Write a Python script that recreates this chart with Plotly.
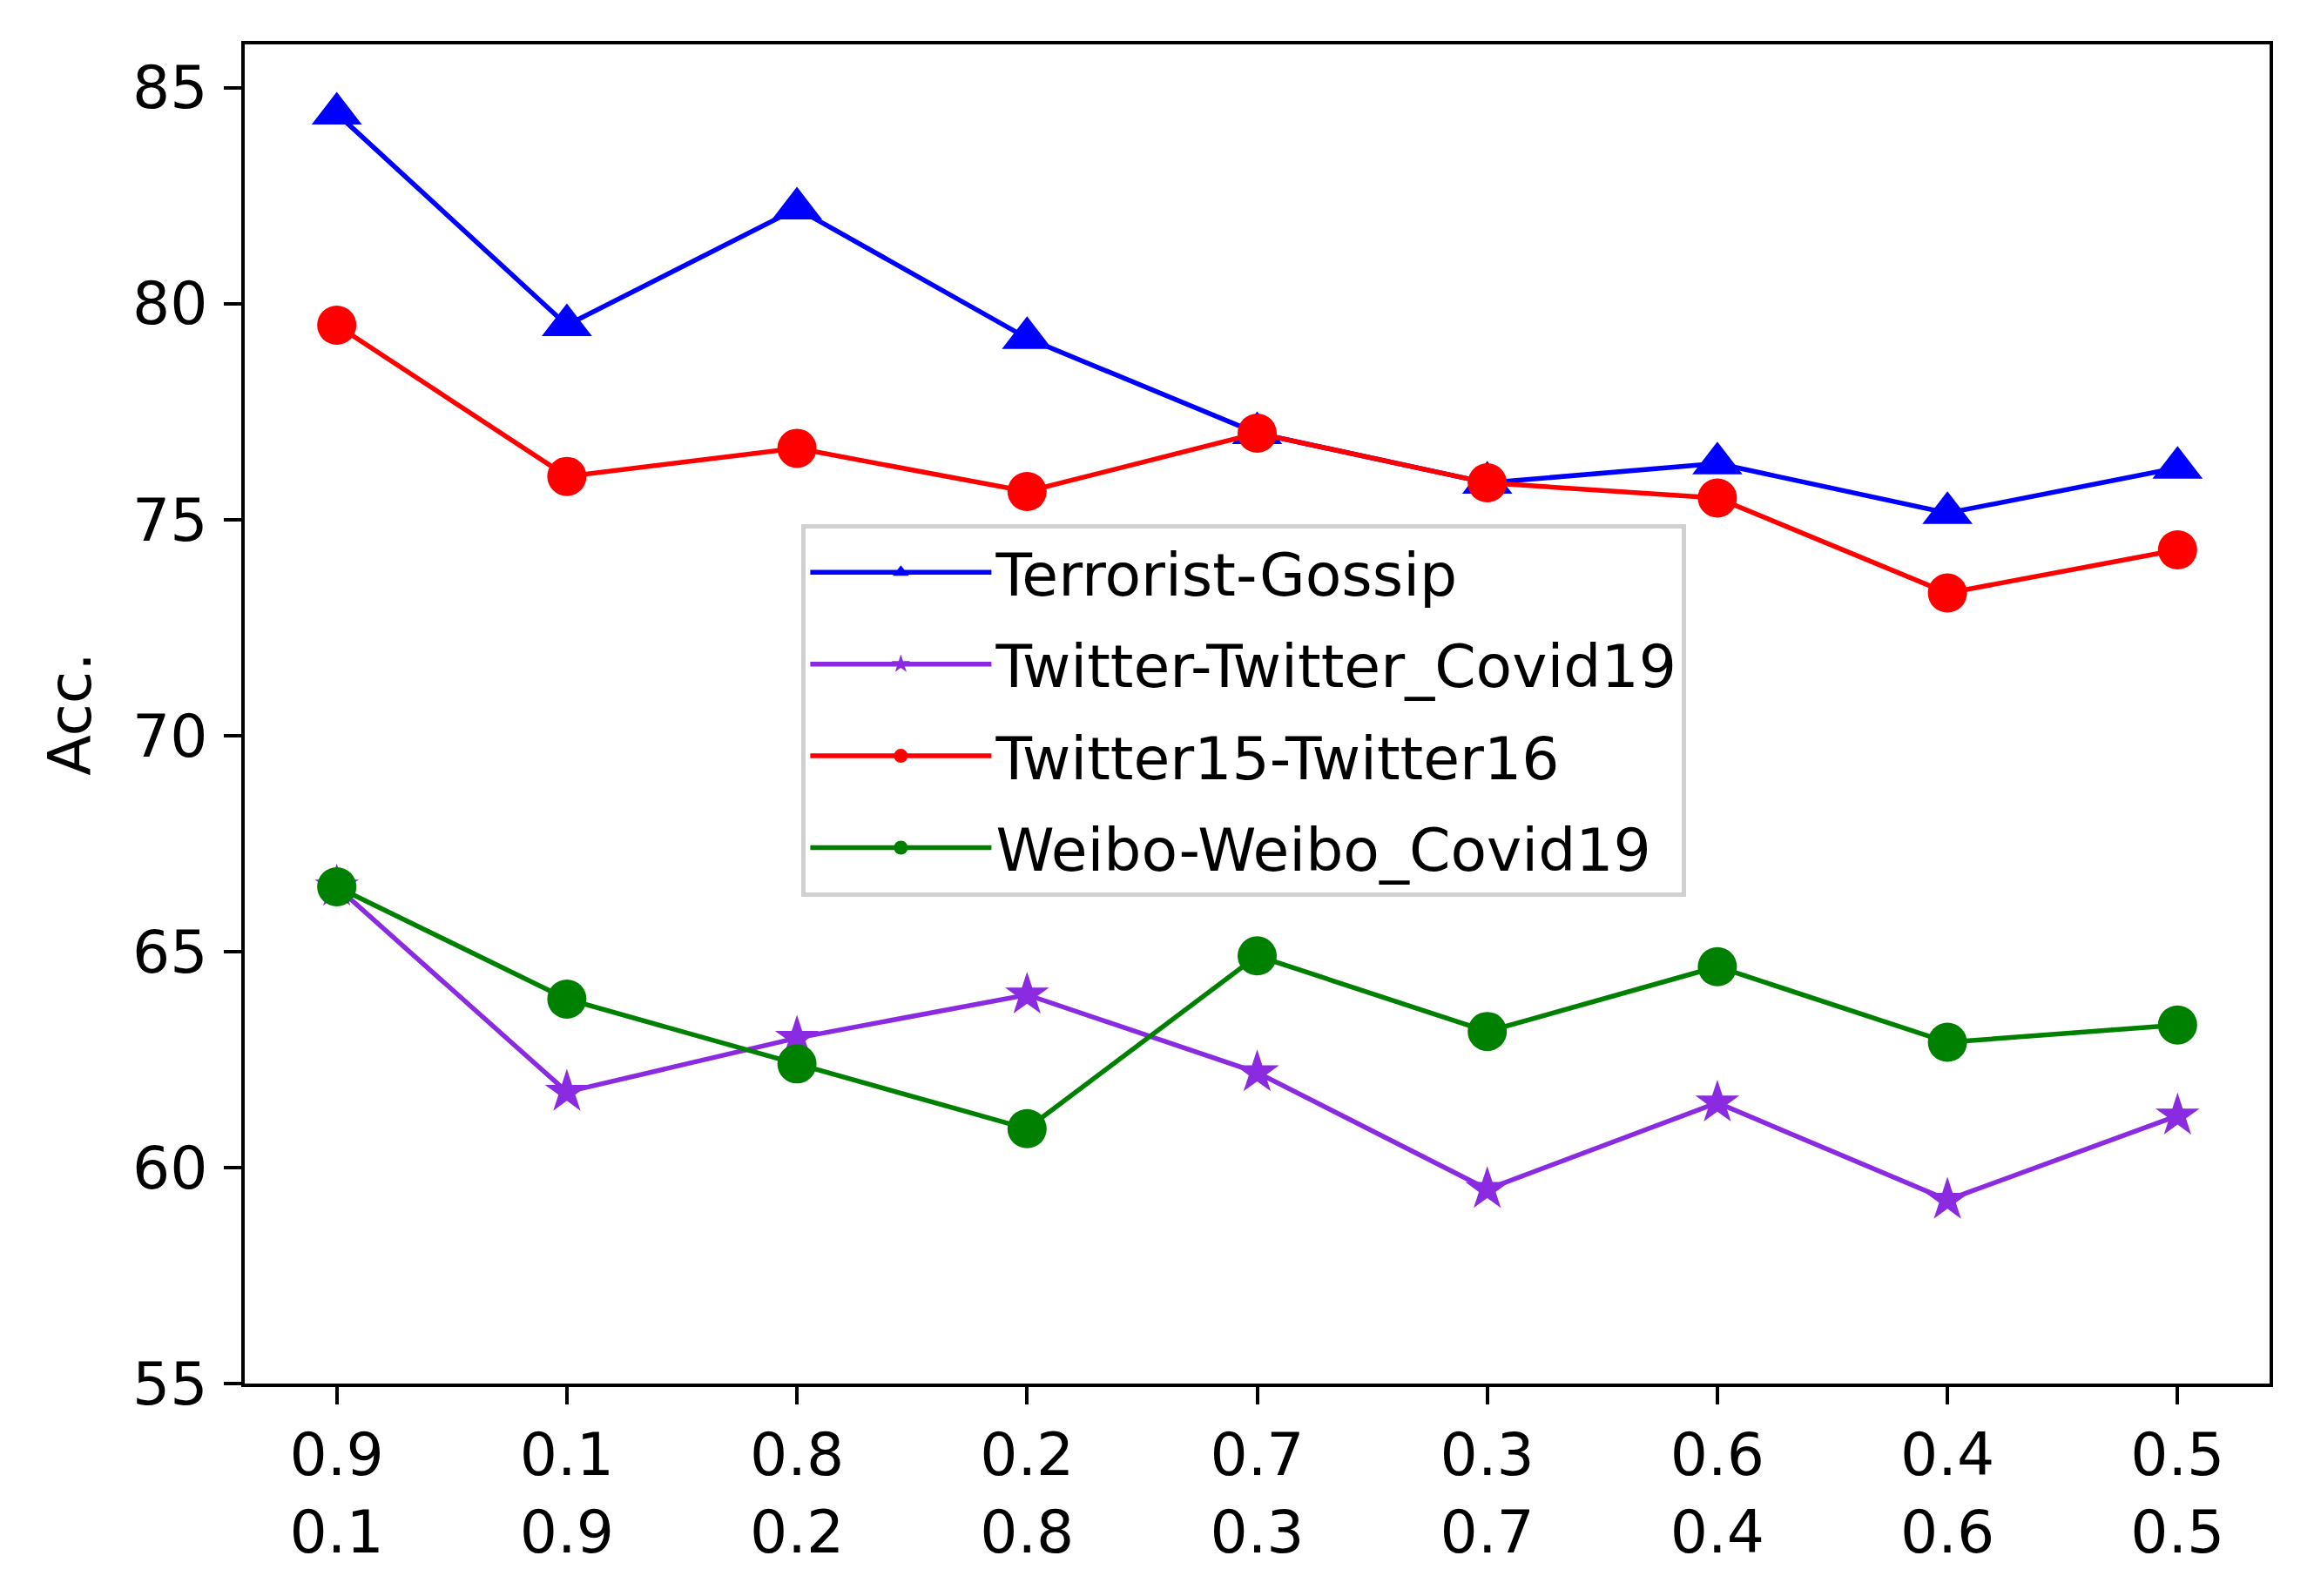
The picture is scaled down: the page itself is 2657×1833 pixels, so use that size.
import plotly.graph_objects as go

x_top = ["0.9", "0.1", "0.8", "0.2", "0.7", "0.3", "0.6", "0.4", "0.5"]
x_bottom = ["0.1", "0.9", "0.2", "0.8", "0.3", "0.7", "0.4", "0.6", "0.5"]

terrorist_gossip = [84.4, 79.5, 82.2, 79.2, 77.0, 75.85, 76.3, 75.15, 76.2]
twitter_covid = [66.5, 61.75, 63.0, 64.0, 62.2, 59.5, 61.5, 59.25, 61.2]
twitter15_16 = [79.5, 76.0, 76.65, 75.65, 77.0, 75.85, 75.5, 73.3, 74.3]
weibo_covid = [66.5, 63.9, 62.4, 60.9, 64.9, 63.15, 64.65, 62.9, 63.3]

y_ticks = [55, 60, 65, 70, 75, 80, 85]

series = [
    ("Terrorist-Gossip", terrorist_gossip, "#0000ff", "triangle-up", 50),
    ("Twitter-Twitter_Covid19", twitter_covid, "#8a2be2", "star", 38),
    ("Twitter15-Twitter16", twitter15_16, "#ff0000", "circle", 45),
    ("Weibo-Weibo_Covid19", weibo_covid, "#008000", "circle", 45),
]

xs = list(range(len(x_top)))
ticktext = [f"{a}<br>{b}" for a, b in zip(x_top, x_bottom)]

fig = go.Figure()
for i, (name, vals, color, sym, size) in enumerate(series):
    fig.add_trace(go.Scatter(
        x=xs, y=vals, name=name, mode="lines+markers",
        legendgroup=f"g{i}",
        line=dict(color=color, width=5.5),
        marker=dict(symbol=sym, size=size, color=color, line=dict(width=0)),
    ))

font_family = "DejaVu Sans"
fs = 68
fig.update_layout(
    width=2657, height=1833,
    margin=dict(l=273, r=59, t=43, b=252),
    paper_bgcolor="white", plot_bgcolor="white",
    font=dict(family=font_family, size=fs, color="black"),
    showlegend=True,
    legend=dict(
        x=0.275, y=0.642, xanchor="left", yanchor="top",
        bgcolor="white", bordercolor="#d0d0d0", borderwidth=5,
        font=dict(size=fs, family=font_family),
        tracegroupgap=14,
        itemwidth=208,
    ),
)
fig.update_xaxes(
    range=[-0.4, 8.4], tickvals=xs, ticktext=ticktext,
    showline=True, linecolor="black", linewidth=3.5, mirror=True,
    ticks="outside", ticklen=20, tickwidth=3.5, tickcolor="black",
    showgrid=False, zeroline=False,
    tickfont=dict(size=fs, family=font_family),
)
fig.update_yaxes(
    range=[55, 86], tickvals=y_ticks,
    showline=True, linecolor="black", linewidth=3.5, mirror=True,
    ticks="outside", ticklen=20, tickwidth=3.5, tickcolor="black",
    showgrid=False, zeroline=False,
    tickfont=dict(size=fs, family=font_family),
    ticklabelstandoff=5,
    title=dict(text="Acc.", font=dict(size=fs, family=font_family), standoff=26),
)

fig.write_html("out.html")
